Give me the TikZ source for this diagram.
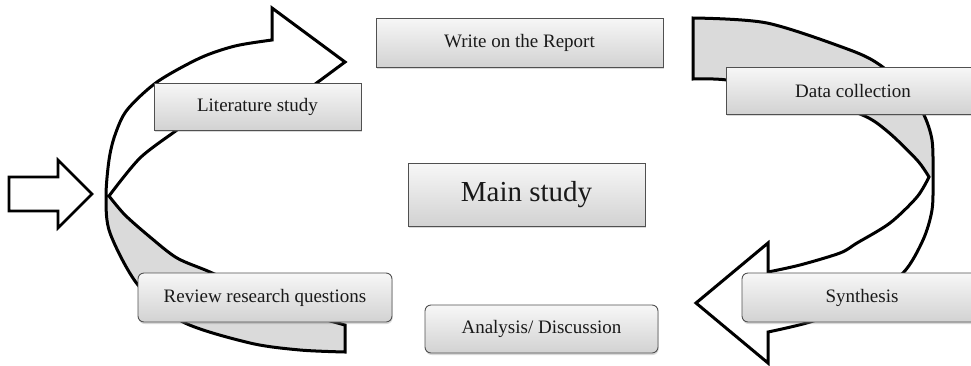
\documentclass[tikz,border=0pt]{standalone}
\usepackage{fontspec}
\setmainfont{Liberation Serif}
\usetikzlibrary{shadows}

\definecolor{ribbongray}{RGB}{218,218,218}
\definecolor{boxedge}{RGB}{80,80,80}
\definecolor{boxtop}{RGB}{247,247,247}
\definecolor{boxbot}{RGB}{210,210,210}
\definecolor{labeltext}{RGB}{25,25,25}

\begin{document}
\begin{tikzpicture}[x=1pt,y=-1pt,
  ribbon/.style={line width=3pt, line join=miter, draw=black},
  ribbonfill/.style={fill=ribbongray},
  stagebox/.style={draw=boxedge, line width=0.9pt, top color=boxtop, bottom color=boxbot,
    inner sep=0pt, text=labeltext, font=\fontsize{19}{21}\selectfont,
    drop shadow={opacity=0.3, shadow xshift=0.6pt, shadow yshift=-2pt}},
  roundbox/.style={stagebox, rounded corners=6pt}]

\useasboundingbox (0,0) rectangle (971,365);

% entry arrow on the left
\draw[line width=2.6pt, line join=miter, fill=white]
  (9,177) -- (58,177) -- (58,160) -- (92,194) -- (58,228) -- (58,211) -- (9,211) -- cycle;

% left twisted ribbon: shaded back face below the twist
\fill[ribbonfill]
  plot[smooth] coordinates {(345,352) (300,350) (250,343) (183,322) (138,285) (110,233) (106,197)}
  -- plot[smooth] coordinates {(109,196) (125,215) (150,237) (177,258) (210,272) (260,295) (300,312) (345,325)}
  -- cycle;
% left ribbon outline with its arrow head
\draw[ribbon]
  plot[smooth] coordinates {(345,352) (300,350) (250,343) (183,322) (138,285) (110,233) (106,197)
    (109,160) (115,135) (127,110) (157,82) (200,58) (235,46) (272,40)}
  -- (272,8) -- (345,62) -- (272,116) -- (272,90)
  -- plot[smooth] coordinates {(272,90) (225,102) (195,117) (177,130) (140,158) (109,196)}
  -- plot[smooth] coordinates {(109,196) (125,215) (150,237) (177,258) (210,272) (260,295) (300,312) (345,325)}
  -- cycle;

% right twisted ribbon: shaded back face above the twist
\fill[ribbonfill]
  plot[smooth] coordinates {(693,18) (767,23) (850,50) (880,65) (905,88) (923,113) (932,140) (933,177)}
  -- plot[smooth] coordinates {(929,177) (917,160) (887,131) (860,114) (790,92) (727,80) (693,79)}
  -- cycle;
% right ribbon outline with its arrow head
\draw[ribbon]
  plot[smooth] coordinates {(693,18) (767,23) (850,50) (880,65) (905,88) (923,113) (932,140) (933,177)
    (932,210) (923,240) (903,273) (862,303) (810,322) (768,332)}
  -- (768,363) -- (696,303) -- (768,243) -- (768,272)
  -- plot[smooth] coordinates {(768,272) (800,265) (840,253) (857,243) (890,223) (917,197) (929,177)}
  -- plot[smooth] coordinates {(929,177) (917,160) (887,131) (860,114) (790,92) (727,80) (693,79)}
  -- cycle;

% stage boxes
\node[stagebox, minimum width=287pt, minimum height=49pt] (report) at (519.5,42.5) {Write on the Report};
\node[stagebox, minimum width=207pt, minimum height=47pt] (literature) at (257.5,106.5) {Literature study};
\node[stagebox, minimum width=254pt, minimum height=47pt] (data) at (853,90.5) {Data collection};
\node[stagebox, minimum width=237pt, minimum height=63pt, font=\fontsize{29}{32}\selectfont] (main) at (526.5,194.5) {Main study};
\node[roundbox, minimum width=254pt, minimum height=49pt] (review) at (265,297.5) {Review research questions};
\node[roundbox, minimum width=233pt, minimum height=48pt] (analysis) at (541.5,329) {Analysis/ Discussion};
\node[roundbox, minimum width=240pt, minimum height=49pt] (synthesis) at (862,297.5) {Synthesis};

\end{tikzpicture}
\end{document}
